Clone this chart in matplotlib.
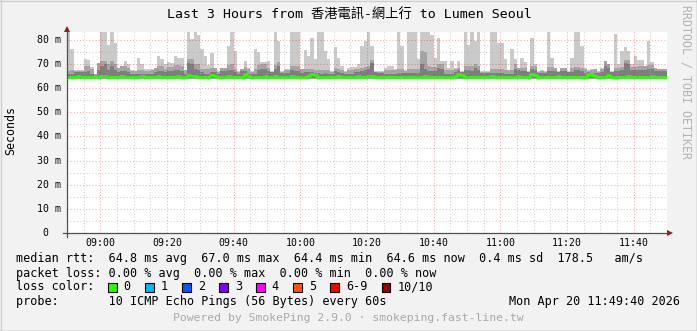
#!/usr/bin/env python3
import numpy as np
import matplotlib
matplotlib.use('Agg')
import matplotlib.pyplot as plt
from matplotlib.patches import Rectangle, Polygon
from matplotlib.lines import Line2D

W, H = 697, 331
MONO = ['DejaVu Sans Mono', 'Noto Sans CJK TC']

title = 'Last 3 Hours from 香港電訊-網上行 to Lumen Seoul'

# one value per minute, 08:50 .. 11:49 (ms)
rtt_max = [83.5, 76, 67.5, 67.5, 67.5, 72, 71.8, 68.8, 66, 70.3,
           83.5, 83.5, 78, 83.5, 78.5, 68.5, 69, 71.2, 69.8, 67.4,
           67, 72.6, 70, 68, 68, 68, 68.5, 73.3, 72, 70,
           70.8, 70.3, 73.3, 72.6, 72.6, 67.5, 83.5, 80.2, 83.5, 82,
           76, 73.3, 69.6, 74.3, 68.4, 67, 68.4, 68.4, 77.5, 83.5,
           75.4, 67, 67.8, 71, 68.4, 67, 76, 74.8, 70.6, 70.6,
           71, 67, 83.5, 79.3, 67, 67.8, 67.8, 83.5, 83.5, 83.5,
           67.8, 75.9, 73.3, 80.9, 72, 83.5, 83.5, 75.4, 72, 67,
           76.8, 72.6, 69, 67, 68.5, 68.7, 68.7, 70, 77.5, 79.5,
           83.5, 77.5, 67, 67, 67, 68.5, 69, 69, 67.8, 83.5,
           77.5, 67.4, 83.5, 83.5, 83.5, 72, 83.5, 83.5, 83.5, 82,
           72.6, 80.9, 71, 71, 68.4, 71, 68.4, 71, 67, 83.5,
           78, 83.5, 79.5, 83.5, 67, 67, 67, 83.5, 83.5, 78.5,
           78.5, 72, 67.4, 76, 72, 68.5, 72.3, 70.6, 67, 80.6,
           69.8, 67, 67.4, 67, 83.5, 72.6, 68.5, 67, 68.5, 68.5,
           67, 72.6, 83.5, 83.5, 77.5, 68.5, 67.5, 67.8, 67.8, 67,
           68.5, 71, 69.8, 67, 82.5, 69.8, 75.4, 77, 75.4, 69.8,
           73.3, 71.6, 71.6, 69, 79.5, 70.6, 68.5, 67.8, 67.8, 67.8]

rtt_p9 = [67, 67.5, 67.2, 67.2, 67.2, 69, 69, 68, 65.8, 70.3,
          71, 71, 70, 71, 70, 68.5, 69, 69, 68.5, 67,
          67, 67.5, 67.5, 67, 67, 67.5, 68.5, 69, 69, 68,
          68.8, 68.8, 69.5, 69.5, 69, 67.5, 72, 72, 70, 69.8,
          68, 67.8, 67.8, 68.4, 68.4, 66.8, 68.4, 68.4, 69.5, 69.8,
          68, 66.8, 67.8, 68.8, 67.8, 66.8, 67.8, 69.5, 69.8, 69.8,
          68.4, 66.8, 69.5, 70.6, 66.8, 67.4, 67.4, 69, 69, 69,
          67.8, 67.8, 67.8, 67.8, 67.4, 67.4, 67.4, 67.4, 67.4, 66.8,
          68.4, 68, 67.4, 66.8, 67.4, 67.4, 68, 68, 68.4, 68.8,
          69, 71.4, 66.8, 66.8, 66.8, 67.4, 67.4, 67.4, 67.4, 67.8,
          67.8, 67.2, 67.8, 67.8, 67.8, 67.8, 75.4, 75, 69, 68.8,
          68.8, 69.8, 69.8, 67.4, 67.4, 67.4, 67.8, 68.4, 66.8, 69,
          69, 69, 70, 69, 66.8, 66.8, 66.8, 67.8, 67.8, 67.8,
          67.8, 67.4, 67.4, 67.4, 69.8, 68.5, 68.4, 68.4, 66.8, 69,
          69, 66.8, 67.2, 66.8, 68.8, 68.8, 68.5, 66.8, 68.4, 68.4,
          66.8, 68.4, 68.8, 68.8, 68.4, 67.8, 67.2, 67.4, 67.8, 66.8,
          67.8, 71, 69.8, 66.8, 68.4, 68.4, 68.8, 71.4, 71.4, 68.8,
          68.8, 69, 69, 69, 69.4, 69.4, 68.4, 67.8, 67.8, 67.8]

rtt_p8 = [66, 66, 66.5, 66.5, 66.5, 66.5, 67, 66, 65.5, 67.5,
          69, 70, 67.5, 69, 67.5, 66.5, 67, 67, 66.5, 66,
          65.8, 66, 66, 65.8, 66, 66, 66.5, 67, 67, 66.5,
          67, 67, 67.5, 67.5, 67, 66, 70.5, 70, 68, 67.5,
          66.5, 66, 66, 66.5, 66.5, 66, 67, 67, 67.5, 67.5,
          66.5, 66, 67, 67, 66, 66, 66, 67.5, 68, 68,
          67, 66.5, 68, 69, 66.3, 66.3, 66.3, 67.5, 67, 67,
          66.3, 66.5, 66.5, 66.8, 66.3, 66.3, 66, 66.3, 66, 66,
          67, 66.5, 66.3, 66, 66, 66, 66.5, 66.5, 67, 67.5,
          68, 70.5, 66.5, 66.3, 66.3, 66, 66, 66, 66, 66.3,
          66.3, 66.3, 66.3, 66.3, 66.3, 66.3, 70, 68, 67, 67,
          67, 68.4, 68, 66, 66, 66, 66.5, 67.5, 66.5, 67.5,
          67.5, 67, 68.5, 67.5, 66.3, 66.3, 66.3, 66.3, 66.3, 66.3,
          66.3, 66, 66, 66, 68, 67.5, 67, 67, 66.5, 67.8,
          67.5, 66.3, 66.3, 66.3, 67, 67, 67, 66.5, 67, 67,
          66.5, 66.8, 67.5, 67.5, 67, 66.3, 66.5, 66, 66.3, 66.3,
          66.5, 69, 68.5, 66.5, 67, 67, 67.5, 70.5, 70, 67.5,
          67.5, 67.5, 67.5, 67.5, 68, 68, 67, 67, 67, 67]

rtt_median = [64.6, 64.7, 64.7, 64.8, 64.6, 64.7, 64.7, 64.6, 64.8, 64.7,
              64.9, 64.8, 64.7, 64.6, 64.7, 64.7, 64.8, 64.6, 64.7, 64.7,
              64.6, 64.7, 64.8, 64.7, 64.7, 64.6, 64.7, 64.8, 64.7, 64.7,
              64.7, 64.6, 64.7, 64.8, 64.7, 64.7, 65.5, 65.1, 64.8, 64.7,
              64.7, 64.6, 64.7, 65.5, 65.1, 64.7, 64.6, 64.7, 64.8, 64.7,
              64.7, 64.6, 64.7, 65.9, 65.0, 64.7, 64.6, 64.7, 64.7, 64.8,
              64.7, 64.7, 64.9, 64.7, 64.6, 64.7, 64.7, 64.8, 64.7, 64.6,
              64.7, 64.7, 64.8, 65.9, 65.3, 64.7, 64.7, 64.6, 64.7, 64.7,
              64.7, 64.8, 64.7, 64.6, 64.7, 64.7, 64.7, 64.8, 64.7, 64.7,
              64.8, 65.1, 64.7, 64.6, 64.7, 64.7, 64.7, 64.7, 64.6, 64.7,
              64.7, 64.7, 64.5, 64.5, 64.6, 64.7, 64.7, 64.8, 64.7, 64.7,
              64.7, 64.6, 64.7, 64.7, 64.7, 64.7, 64.8, 65.9, 65.3, 64.7,
              64.7, 64.7, 64.7, 64.6, 64.7, 64.7, 64.7, 64.8, 64.7, 64.7,
              64.7, 64.6, 64.7, 64.7, 64.7, 64.8, 64.7, 64.6, 64.7, 65.8,
              65.3, 64.7, 64.7, 64.6, 64.7, 64.7, 64.7, 64.8, 64.7, 64.7,
              64.6, 64.7, 64.7, 64.7, 64.7, 64.7, 65.8, 65.5, 64.8, 64.7,
              64.6, 64.7, 65.3, 64.7, 64.7, 64.6, 64.7, 64.7, 64.8, 64.7,
              64.7, 64.6, 64.7, 64.7, 64.7, 64.8, 64.7, 64.7, 64.6, 64.7]
rtt_floor = 63.7

x_ticks = [10, 30, 50, 70, 90, 110, 130, 150, 170]
x_labels = ['09:00', '09:20', '09:40', '10:00', '10:20', '10:40', '11:00', '11:20', '11:40']
y_ticks = [0, 10, 20, 30, 40, 50, 60, 70, 80]
y_labels = ['0', '10 m', '20 m', '30 m', '40 m', '50 m', '60 m', '70 m', '80 m']

legend_rtt = 'median rtt:  64.8 ms avg  67.0 ms max  64.4 ms min  64.6 ms now  0.4 ms sd  178.5   am/s'
legend_loss = 'packet loss: 0.00 % avg  0.00 % max  0.00 % min  0.00 % now'
legend_probe = 'probe:       10 ICMP Echo Pings (56 Bytes) every 60s'
stamp = 'Mon Apr 20 11:49:40 2026'
footer = 'Powered by SmokePing 2.9.0 · smokeping.fast-line.tw'
loss_labels = ['0', '1', '2', '3', '4', '5', '6-9', '10/10']
loss_colors = ['#26ff00', '#00b8ff', '#0059ff', '#7e00ff', '#ff00ff', '#ff5500', '#ff0000', '#a10000']
loss_box_x = [108, 145.3, 182.3, 219.3, 256.3, 293.3, 330.3, 381.7]


def fx(x):
    return x / W


def fy(y):
    return 1 - y / H


def main():
    fig = plt.figure(figsize=(W / 100, H / 100), dpi=100, facecolor='#f2f2f2')
    ax = fig.add_axes([fx(67), fy(233), 600 / W, (233 - 31.5) / H])
    ax.set_facecolor('white')
    n = len(rtt_max)
    ax.set_xlim(0, n)
    ax.set_ylim(0, (233 - 31.5) / 2.416)

    edges = np.arange(n + 1)

    def ext(a):
        return np.append(a, a[-1])

    ax.fill_between(edges, rtt_floor, ext(rtt_max), step='post', color='#cacaca', lw=0, zorder=1)
    ax.fill_between(edges, rtt_floor + 0.2, ext(rtt_p9), step='post', color='#a4a4a4', lw=0, zorder=2)
    ax.fill_between(edges, rtt_floor + 0.4, ext(rtt_p8), step='post', color='#7e7e7e', lw=0, zorder=3)

    # grid
    for m in range(5, n, 5):
        major = (m - 10) % 20 == 0
        ax.axvline(m, color='#ff0000' if major else '#b0b0b0', alpha=0.35 if major else 0.6,
                   lw=0.75, ls=(0, (1, 2)), zorder=4)
    for v in range(5, 85, 5):
        major = v % 10 == 0
        ax.axhline(v, color='#ff0000' if major else '#b0b0b0', alpha=0.35 if major else 0.6,
                   lw=0.75, ls=(0, (1, 2)), zorder=4)

    ax.step(edges, ext(rtt_median), where='post', color=loss_colors[0], lw=1.9, zorder=5)

    for s in ax.spines.values():
        s.set_visible(False)
    ax.set_xticks(x_ticks)
    ax.set_xticklabels([])
    ax.set_yticks(y_ticks)
    ax.set_yticklabels([])
    ax.tick_params(length=0)

    # axes lines and arrows
    axis_col = '#505050'
    arrow_col = '#8b1c1c'
    fig.add_artist(Line2D([fx(63), fx(668)], [fy(233), fy(233)], color=axis_col, lw=0.9))
    fig.add_artist(Line2D([fx(67), fx(67)], [fy(237), fy(31)], color=axis_col, lw=0.9))
    fig.add_artist(Polygon([(fx(667), fy(230)), (fx(673), fy(233)), (fx(667), fy(236))],
                           closed=True, color=arrow_col, lw=0))
    fig.add_artist(Polygon([(fx(64), fy(32)), (fx(67), fy(26)), (fx(70), fy(32))],
                           closed=True, color=arrow_col, lw=0))

    for t, lab in zip(x_ticks, x_labels):
        xp = ax.transData.transform((t, 0))[0]
        fig.text(xp / W, fy(242.5), lab, ha='center', va='center', fontsize=7.1, family=MONO)
    for t, lab in zip(y_ticks, y_labels):
        yp = ax.transData.transform((0, t))[1]
        xr = 61 if lab != '0' else 48.6
        fig.text(fx(xr), yp / H, lab, ha='right', va='center', fontsize=7.1, family=MONO)

    fig.text(fx(349), fy(14.3), title, ha='center', va='center', fontsize=9.5, family=MONO)
    fig.text(fx(10.5), fy(131), 'Seconds', rotation=90, ha='center', va='center',
             fontsize=8.4, family=MONO)
    fig.text(fx(686), fy(82), 'RRDTOOL / TOBI OETIKER', rotation=270, ha='center', va='center',
             fontsize=8.4, family=MONO, color='#b4b4b4')

    fig.text(fx(16), fy(258.5), legend_rtt, ha='left', va='center', fontsize=8.5, family=MONO)
    fig.text(fx(16), fy(273), legend_loss, ha='left', va='center', fontsize=8.5, family=MONO)
    fig.text(fx(16), fy(287), 'loss color:', ha='left', va='center', fontsize=8.5, family=MONO)
    for bx, col, lab in zip(loss_box_x, loss_colors, loss_labels):
        fig.add_artist(Rectangle((fx(bx), fy(291.5)), 8.5 / W, 8.5 / H, facecolor=col,
                                 edgecolor='black', lw=0.8))
        fig.text(fx(bx + 15.5), fy(287), lab, ha='left', va='center', fontsize=8.5, family=MONO)
    fig.text(fx(16), fy(301), legend_probe, ha='left', va='center', fontsize=8.5, family=MONO)
    fig.text(fx(680), fy(301), stamp, ha='right', va='center', fontsize=8.5, family=MONO)
    fig.text(fx(348), fy(318), footer, ha='center', va='center', fontsize=8.2, family=MONO,
             color='#a8a8a8')

    # frame
    fig.add_artist(Line2D([0, 1], [fy(0.5), fy(0.5)], color='#cfcfcf', lw=1))
    fig.add_artist(Line2D([fx(0.5), fx(0.5)], [0, 1], color='#cfcfcf', lw=1))
    fig.add_artist(Line2D([0, 1], [fy(330.5), fy(330.5)], color='#9e9e9e', lw=1))
    fig.add_artist(Line2D([fx(696.5), fx(696.5)], [0, 1], color='#9e9e9e', lw=1))

    fig.savefig('out.png', dpi=100, facecolor=fig.get_facecolor())


if __name__ == "__main__":
    main()
